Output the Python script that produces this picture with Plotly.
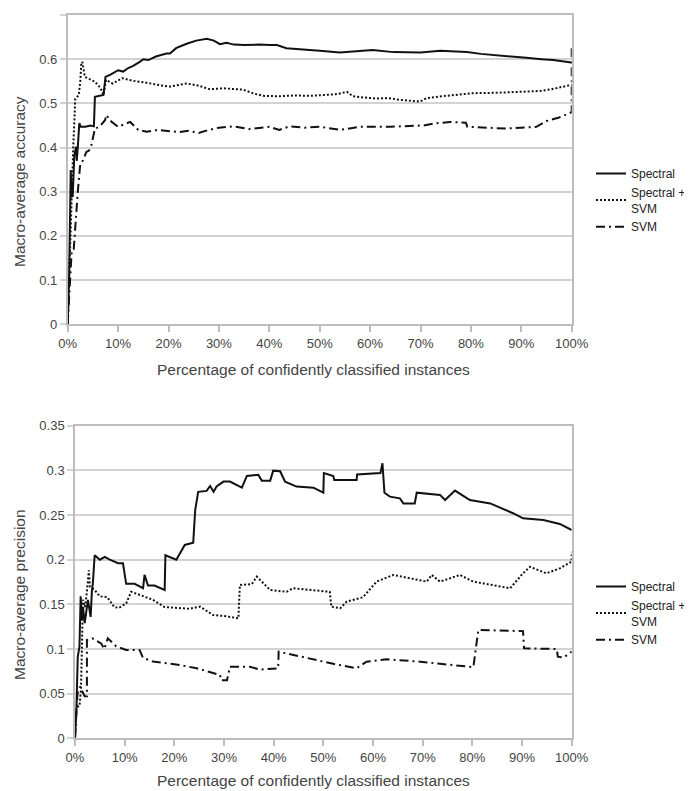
import plotly.graph_objects as go

# ---------------- data: accuracy chart ----------------
acc_spectral_x = [0, 0.3, 0.6, 0.8, 1.0, 1.3, 1.65, 1.8, 2.0, 2.3, 2.6, 3.5, 4.5, 5.2, 5.4, 6.5, 7.1, 7.5, 8.5, 10,
                  11, 12, 13, 14.3, 15, 16, 17.5, 19.6, 20.3, 21.5, 23.6, 25.5, 27.6, 29, 30.2, 31.5, 33, 35, 38, 40.1,
                  41.5, 43.4, 46, 50, 54, 57, 60.5, 64.6, 68, 70, 73.9, 76, 79.2, 82, 87.1, 91, 94, 96.3, 99.6, 100]
acc_spectral_y = [0, 0.12, 0.349, 0.289, 0.29, 0.38, 0.402, 0.37, 0.40, 0.455, 0.447, 0.447, 0.45, 0.448, 0.515, 0.517,
                  0.519, 0.56, 0.565, 0.575, 0.572, 0.58, 0.585, 0.594, 0.6, 0.598, 0.606, 0.613, 0.613, 0.625, 0.635,
                  0.642, 0.646, 0.642, 0.634, 0.637, 0.633, 0.632, 0.633, 0.632, 0.632, 0.625, 0.622, 0.619, 0.615,
                  0.618, 0.621, 0.616, 0.616, 0.615, 0.619, 0.618, 0.616, 0.612, 0.606, 0.603, 0.6, 0.598, 0.593, 0.592]

acc_combo_x = [0, 0.4, 0.6, 0.9, 1.1, 1.5, 2.2, 2.5, 2.7, 2.9, 3.4, 5.4, 6.5, 7.1, 7.6, 8.9, 10.8, 13, 15, 18.3, 20.3,
               23.6, 26, 28.2, 31, 34.8, 37, 38.8, 42, 45, 48, 51, 53.4, 55.4, 56.6, 58, 61.3, 63.5, 65.9, 69.9, 71.2,
               75, 80.4, 85, 90, 93.7, 96, 99.6, 100]
acc_combo_y = [0, 0.16, 0.236, 0.35, 0.40, 0.51, 0.519, 0.55, 0.59, 0.594, 0.56, 0.549, 0.535, 0.519, 0.553, 0.545,
               0.557, 0.551, 0.548, 0.541, 0.538, 0.545, 0.54, 0.532, 0.534, 0.531, 0.522, 0.517, 0.516, 0.518, 0.517,
               0.519, 0.521, 0.526, 0.516, 0.514, 0.511, 0.512, 0.508, 0.504, 0.512, 0.517, 0.523, 0.524, 0.526, 0.528,
               0.532, 0.541, 0.542]

acc_svm_x = [0, 0.3, 0.5, 0.8, 1.2, 1.65, 2.0, 2.5, 3.0, 3.7, 4.2, 4.6, 5.4, 6.3, 7.4, 7.7, 8.3, 10, 12.4, 14, 15.7,
             18, 20, 22, 24, 26, 28, 30, 33, 36, 40, 42, 44, 47, 50, 54, 58, 64, 70.6, 73, 75.9, 79, 79.3, 84, 87, 93,
             95, 97.5, 99.6, 100, 100]
acc_svm_y = [0, 0.06, 0.12, 0.168, 0.17, 0.25, 0.30, 0.364, 0.37, 0.39, 0.393, 0.40, 0.443, 0.447, 0.462, 0.474,
             0.462, 0.447, 0.458, 0.44, 0.436, 0.44, 0.437, 0.435, 0.438, 0.433, 0.44, 0.445, 0.448, 0.442, 0.447,
             0.44, 0.448, 0.445, 0.447, 0.44, 0.447, 0.447, 0.45, 0.455, 0.458, 0.456, 0.447, 0.445, 0.443, 0.447,
             0.46, 0.468, 0.477, 0.48, 0.632]

# ---------------- data: precision chart ----------------
prec_spectral_x = [0, 0.3, 0.55, 0.9, 1.14, 1.41, 1.61, 1.95, 2.6, 3.15, 3.4, 3.6, 3.96, 5, 6, 7, 8.66, 9.66, 10.3,
                   12, 13.7, 14.0, 14.7, 16, 18.05, 18.2, 20.4, 21.1, 22.1, 23.8, 24.2, 24.8, 26.5, 27.2, 27.9, 28.5,
                   29.9, 31.2, 33.6, 34.6, 36.9, 37.6, 39.3, 39.9, 41.3, 42.3, 44.6, 48, 50, 50.1, 52, 52.2, 56.7,
                   56.8, 60.1, 61.5, 61.9, 62.3, 63.4, 65.4, 66.1, 68.4, 68.8, 73.5, 74.5, 76.5, 79.5, 83.6, 88.2,
                   90.2, 94.3, 97.6, 100]
prec_spectral_y = [0, 0.035, 0.091, 0.103, 0.159, 0.132, 0.147, 0.129, 0.155, 0.136, 0.165, 0.174, 0.205, 0.2, 0.203,
                   0.2, 0.196, 0.196, 0.173, 0.173, 0.168, 0.183, 0.171, 0.171, 0.166, 0.205, 0.2, 0.207, 0.2165,
                   0.219, 0.2556, 0.276, 0.277, 0.2825, 0.276, 0.282, 0.2874, 0.2874, 0.2806, 0.2937, 0.295, 0.2885,
                   0.2885, 0.2997, 0.299, 0.2874, 0.2818, 0.2806, 0.275, 0.297, 0.2937, 0.2893, 0.2893, 0.2955,
                   0.2962, 0.297, 0.3079, 0.275, 0.2706, 0.2687, 0.263, 0.263, 0.275, 0.2725, 0.2668, 0.2773, 0.2668,
                   0.263, 0.252, 0.2463, 0.2445, 0.24, 0.2332]

prec_combo_x = [0, 0.3, 0.9, 1.2, 1.6, 2.0, 2.3, 2.8, 3.0, 3.96, 5, 6.5, 7.9, 8.8, 10.3, 11.3, 13.3, 15.7, 18, 21.1,
                23, 25.2, 27.8, 30, 32.9, 33.2, 35.6, 36.6, 39.3, 42.6, 43.9, 51.3, 51.6, 53.4, 54.7, 58, 60.7, 64.1,
                70.8, 71.8, 73.5, 77.5, 80.2, 87.6, 90.2, 91.6, 94.9, 97.6, 100, 100]
prec_combo_y = [0, 0.035, 0.036, 0.054, 0.155, 0.147, 0.159, 0.188, 0.17, 0.166, 0.159, 0.158, 0.147, 0.146, 0.151,
                0.164, 0.16, 0.155, 0.147, 0.1456, 0.145, 0.1474, 0.138, 0.137, 0.1343, 0.1716, 0.1726, 0.181, 0.166,
                0.164, 0.168, 0.164, 0.1474, 0.1456, 0.153, 0.158, 0.1754, 0.1829, 0.1754, 0.1829, 0.1754, 0.1829,
                0.1754, 0.168, 0.1847, 0.192, 0.1847, 0.1903, 0.1978, 0.209]

prec_svm_x = [0, 0.5, 1.0, 1.95, 2.4, 2.4, 3.5, 5.3, 5.9, 6.6, 8.3, 10.3, 13, 13.7, 15.7, 21.1, 24.5, 29.2, 29.4, 30.6,
              31.2, 35.2, 37.2, 40.9, 41, 44, 48, 52, 56.7, 58.7, 62.7, 69.5, 73.5, 80.2, 81.2, 90.2, 90.4, 97, 97.2,
              98.4, 100]
prec_svm_y = [0, 0.05, 0.058, 0.047, 0.047, 0.11, 0.112, 0.106, 0.1, 0.112, 0.103, 0.099, 0.099, 0.09, 0.086, 0.082,
              0.0784, 0.0709, 0.065, 0.065, 0.0802, 0.0802, 0.077, 0.0784, 0.097, 0.0933, 0.0877, 0.0834, 0.0784,
              0.0858, 0.0884, 0.0858, 0.0834, 0.0797, 0.1213, 0.12, 0.1008, 0.1, 0.0914, 0.0905, 0.097]

series_names = ["Spectral", "Spectral &#43;<br>SVM", "SVM"]
x_tick_vals = [0, 10, 20, 30, 40, 50, 60, 70, 80, 90, 100]
x_tick_text = ["0%", "10%", "20%", "30%", "40%", "50%", "60%", "70%", "80%", "90%", "100%"]
x_title = "Percentage of confidently classified instances"
y_title_top = "Macro-average accuracy"
y_title_bottom = "Macro-average precision"

# page body keeps its 8px margin: the figure sits at (8, 8) in the window
OFF = 8
W, H = 692 - OFF * 2, 791 - OFF
FONT = "Liberation Sans, Arial, sans-serif"
INK = "#111111"
TXT = "#444444"
GRID = "#d2d2d2"
TITLE_SIZE = 15.5
styles = [dict(color=INK, width=2, dash="solid"),
          dict(color=INK, width=2, dash="2px,2px"),
          dict(color=INK, width=2, dash="9px,4px,2px,4px")]

fig = go.Figure()
acc = [(acc_spectral_x, acc_spectral_y), (acc_combo_x, acc_combo_y), (acc_svm_x, acc_svm_y)]
prec = [(prec_spectral_x, prec_spectral_y), (prec_combo_x, prec_combo_y), (prec_svm_x, prec_svm_y)]
for i, (xs, ys) in enumerate(acc):
    fig.add_trace(go.Scatter(x=xs, y=ys, mode="lines", name=series_names[i], line=styles[i],
                             xaxis="x", yaxis="y", legend="legend"))
for i, (xs, ys) in enumerate(prec):
    fig.add_trace(go.Scatter(x=xs, y=ys, mode="lines", name=series_names[i], line=styles[i],
                             xaxis="x2", yaxis="y2", legend="legend2"))

def xa(domain, anchor):
    return dict(domain=domain, anchor=anchor, range=[0, 100], tickmode="array", tickvals=x_tick_vals,
                ticktext=x_tick_text,
                showgrid=False, zeroline=False, showline=True, mirror=True, linecolor="#bdbdbd", linewidth=1.5,
                ticks="outside", ticklen=6, tickcolor="#bdbdbd", tickwidth=1.5,
                tickfont=dict(family=FONT, size=13, color=TXT), automargin=False)

def ya(domain, anchor, rng, dtick):
    return dict(domain=domain, anchor=anchor, range=rng, dtick=dtick, showgrid=True, gridcolor=GRID,
                gridwidth=1.5, zeroline=False, showline=True, mirror=True, linecolor="#bdbdbd", linewidth=1.5,
                ticks="outside", ticklen=6, tickcolor=GRID, tickwidth=1.5,
                tickfont=dict(family=FONT, size=13, color=TXT), automargin=False)

def dx(px):
    return (px - OFF) / W

def dy(py):
    return 1 - (py - OFF) / H

top_x = [dx(67.7), dx(571.7)]
top_y = [dy(324.3), dy(15)]
bot_x = [dx(75), dx(571.7)]
bot_y = [dy(738.3), dy(425.7)]

legend_style = dict(font=dict(family=FONT, size=12, color="#222222"), bgcolor="rgba(0,0,0,0)",
                    xanchor="left", yanchor="top", tracegroupgap=0, itemwidth=30)

title_font = dict(family=FONT, size=TITLE_SIZE, color=TXT)
titles = [
    dict(text=x_title, x=dx(313), y=dy(369), textangle=0),
    dict(text=x_title, x=dx(313), y=dy(780), textangle=0),
    dict(text=y_title_top, x=dx(19), y=dy(182), textangle=-90),
    dict(text=y_title_bottom, x=dx(19), y=dy(595), textangle=-90),
]
annots = [dict(xref="paper", yref="paper", xanchor="center", yanchor="middle", showarrow=False,
               font=title_font, **t) for t in titles]

fig.update_layout(
    width=W, height=H, margin=dict(l=0, r=0, t=0, b=0, autoexpand=False), autosize=False,
    paper_bgcolor="white", plot_bgcolor="white", template="none",
    xaxis=xa(top_x, "y"), yaxis=ya(top_y, "x", [0, 0.7], 0.1),
    xaxis2=xa(bot_x, "y2"), yaxis2=ya(bot_y, "x2", [0, 0.35], 0.05),
    legend=dict(x=dx(591), y=dy(159), **legend_style),
    legend2=dict(x=dx(591), y=dy(572), **legend_style),
    annotations=annots,
    showlegend=True,
)

fig.write_html("out.html", config={"responsive": False, "displayModeBar": False},
               post_script="document.documentElement.style.overflow='hidden';"
                           "document.body.style.overflow='hidden';")
